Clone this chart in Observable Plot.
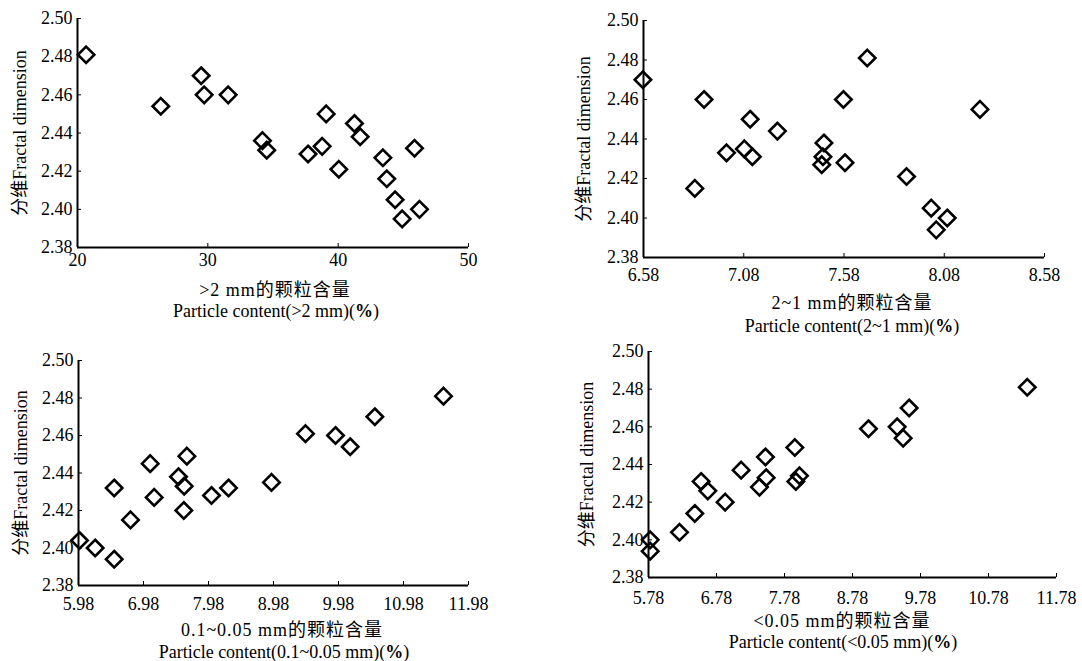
<!DOCTYPE html>
<html>
<head>
<meta charset="utf-8">
<script src="https://cdn.jsdelivr.net/npm/d3@7"></script>
<script src="https://cdn.jsdelivr.net/npm/@observablehq/plot@0.6"></script>
<style>
  html, body { margin: 0; padding: 0; background: #fff; }
  #root { position: relative; width: 1082px; height: 661px; overflow: hidden; background: #fff; }
  .panel { position: absolute; }
  .cap { position: absolute; transform: translate(-50%, -50%); white-space: nowrap; color: #000;
         font-family: "Liberation Serif", "Noto Sans CJK SC", serif; font-size: 18px; line-height: 1; }
  .cn { letter-spacing: 1px; }
</style>
</head>
<body>
<div id="root"></div>
<script>
// ---- Data ----
const yTicks = [2.38, 2.40, 2.42, 2.44, 2.46, 2.48, 2.50];
const yLabel = "分维Fractal dimension";

// Panel 1: >2 mm
const p1X = [20.66, 26.39, 29.49, 29.72, 31.56, 34.19, 34.52, 37.69, 38.77, 39.08, 40.05, 41.25, 41.69, 43.43, 43.73, 44.37, 45.86, 44.91, 46.24];
const p1Y = [2.481, 2.454, 2.470, 2.460, 2.460, 2.436, 2.431, 2.429, 2.433, 2.450, 2.421, 2.445, 2.438, 2.427, 2.416, 2.405, 2.432, 2.395, 2.400];
const p1Ticks = [20, 30, 40, 50];
const p1Cn = ">2  mm的颗粒含量";
const p1En = "Particle content(>2 mm)(%)";

// Panel 2: 2~1 mm
const p2X = [6.577, 6.882, 6.836, 6.994, 7.083, 7.112, 7.123, 7.248, 7.480, 7.475, 7.469, 7.577, 7.585, 7.696, 7.892, 8.015, 8.095, 8.040, 8.258];
const p2Y = [2.470, 2.460, 2.415, 2.433, 2.435, 2.450, 2.431, 2.444, 2.438, 2.431, 2.427, 2.460, 2.428, 2.481, 2.421, 2.405, 2.400, 2.394, 2.455];
const p2Ticks = [6.58, 7.08, 7.58, 8.08, 8.58];
const p2Cn = "2~1  mm的颗粒含量";
const p2En = "Particle content(2~1 mm)(%)";

// Panel 3: 0.1~0.05 mm
const p3X = [5.995, 6.236, 6.529, 6.529, 6.78, 7.083, 7.144, 7.518, 7.606, 7.647, 7.60, 8.026, 8.288, 8.949, 9.472, 9.934, 10.16, 10.539, 11.595];
const p3Y = [2.404, 2.400, 2.394, 2.432, 2.415, 2.445, 2.427, 2.438, 2.433, 2.449, 2.420, 2.428, 2.432, 2.435, 2.461, 2.460, 2.454, 2.470, 2.481];
const p3Ticks = [5.98, 6.98, 7.98, 8.98, 9.98, 10.98, 11.98];
const p3Cn = "0.1~0.05  mm的颗粒含量";
const p3En = "Particle content(0.1~0.05 mm)(%)";

// Panel 4: <0.05 mm
const p4X = [5.805, 5.805, 6.236, 6.461, 6.554, 6.652, 6.907, 7.142, 7.412, 7.510, 7.500, 7.932, 7.947, 8.0, 9.015, 9.437, 9.525, 9.613, 11.35];
const p4Y = [2.400, 2.394, 2.404, 2.414, 2.431, 2.426, 2.420, 2.437, 2.428, 2.433, 2.444, 2.449, 2.431, 2.434, 2.459, 2.460, 2.454, 2.470, 2.481];
const p4Ticks = [5.78, 6.78, 7.78, 8.78, 9.78, 10.78, 11.78];
const p4Cn = "<0.05  mm的颗粒含量";
const p4En = "Particle content(<0.05 mm)(%)";

// ---- Layout ----
const panels = [
  {xs: p1X, ys: p1Y, ticks: p1Ticks, fmt: d3.format("d"), cn: p1Cn, en: p1En,
   left: 0, top: 0, width: 490, height: 277, mL: 77, mT: 18, mR: 22, mB: 30, lo: 64, xp: 10,
   cnPos: [275, 290], enPos: [276, 311]},
  {xs: p2X, ys: p2Y, ticks: p2Ticks, fmt: d3.format(".2f"), cn: p2Cn, en: p2En,
   left: 560, top: 0, width: 514, height: 287, mL: 83, mT: 20, mR: 30, mB: 30, lo: 66, xp: 15,
   cnPos: [852, 303], enPos: [852, 326]},
  {xs: p3X, ys: p3Y, ticks: p3Ticks, fmt: d3.format(".2f"), cn: p3Cn, en: p3En,
   left: 0, top: 330, width: 494, height: 285, mL: 78, mT: 30, mR: 26, mB: 30, lo: 64, xp: 16,
   cnPos: [282, 630], enPos: [284, 652]},
  {xs: p4X, ys: p4Y, ticks: p4Ticks, fmt: d3.format(".2f"), cn: p4Cn, en: p4En,
   left: 560, top: 330, width: 518, height: 277, mL: 88, mT: 21, mR: 22, mB: 30, lo: 68, xp: 18,
   cnPos: [842, 621], enPos: [843, 642]}
];

const root = document.getElementById("root");

for (const p of panels) {
  const data = p.xs.map((x, i) => ({x, y: p.ys[i]}));
  const xDom = [p.ticks[0], p.ticks[p.ticks.length - 1]];
  const chart = Plot.plot({
    width: p.width, height: p.height,
    marginLeft: p.mL, marginTop: p.mT, marginRight: p.mR, marginBottom: p.mB,
    style: {fontFamily: "'Liberation Serif', 'Noto Sans CJK SC', serif", fontSize: "18px", color: "#000", background: "transparent"},
    x: {domain: xDom},
    y: {domain: [2.38, 2.50]},
    marks: [
      Plot.axisX({ticks: p.ticks, tickFormat: p.fmt, tickSize: -4, tickPadding: p.xp, label: null}),
      Plot.axisY({ticks: yTicks, tickFormat: d3.format(".2f"), tickSize: -4, tickPadding: 9,
                  label: yLabel, labelAnchor: "center", labelOffset: p.lo, labelArrow: "none"}),
      Plot.ruleX([xDom[0]], {strokeWidth: 2}),
      Plot.ruleY([2.38], {strokeWidth: 2}),
      Plot.dot(data, {x: "x", y: "y", symbol: "diamond2", r: 7.4, stroke: "#000", strokeWidth: 2.6})
    ]
  });
  const div = document.createElement("div");
  div.className = "panel";
  div.style.left = p.left + "px";
  div.style.top = p.top + "px";
  div.appendChild(chart);
  root.appendChild(div);

  const c1 = document.createElement("div");
  c1.className = "cap cn";
  c1.style.left = p.cnPos[0] + "px";
  c1.style.top = p.cnPos[1] + "px";
  c1.textContent = p.cn;
  root.appendChild(c1);

  const c2 = document.createElement("div");
  c2.className = "cap";
  c2.style.left = p.enPos[0] + "px";
  c2.style.top = p.enPos[1] + "px";
  const main = p.en.replace("(%)", "(");
  c2.appendChild(document.createTextNode(main));
  const b = document.createElement("b");
  b.textContent = "%";
  c2.appendChild(b);
  c2.appendChild(document.createTextNode(")"));
  root.appendChild(c2);
}
</script>
</body>
</html>
